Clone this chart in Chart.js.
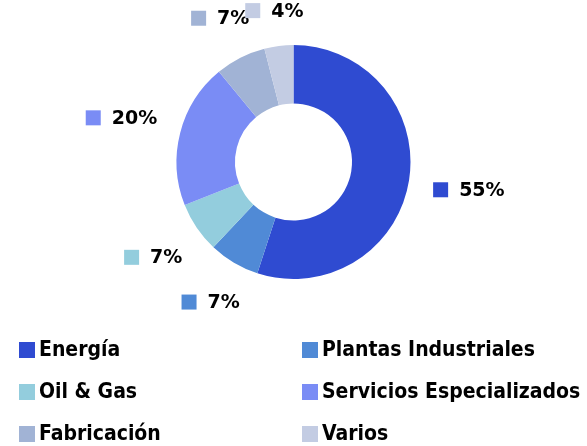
<!DOCTYPE html>
<html>
<head>
<meta charset="utf-8">
<script src="https://cdn.jsdelivr.net/npm/chart.js@4"></script>
<style>
  html, body { margin: 0; padding: 0; background: #fff; }
  #wrap { width: 587px; height: 446px; }
</style>
</head>
<body>
<div id="wrap"><canvas id="shareChart" width="587" height="446"></canvas></div>
<script>
const categories = ['Energía', 'Plantas Industriales', 'Oil & Gas', 'Servicios Especializados', 'Fabricación', 'Varios'];
const shares = [55, 7, 7, 20, 7, 4];
const colors = ['#2F4BD1', '#508AD6', '#93CDDD', '#7A8CF5', '#A1B3D5', '#C3CCE3'];

// etiquetas fuera del anillo: cuadro de color + porcentaje
const outsideLabels = {
  id: 'outsideLabels',
  afterDatasetsDraw(chart) {
    const ctx = chart.ctx;
    const meta = chart.getDatasetMeta(0);
    ctx.save();
    ctx.font = 'bold 19px "DejaVu Sans"';
    ctx.textBaseline = 'middle';
    ctx.textAlign = 'left';
    meta.data.forEach((arc, i) => {
      const mid = (arc.startAngle + arc.endAngle) / 2;
      const text = shares[i] + '%';
      const w = 15 + 11 + ctx.measureText(text).width;
      const h = 16;
      const c = Math.cos(mid), s = Math.sin(mid);
      const d = arc.outerRadius + 24 + Math.abs(c) * w / 2 + Math.abs(s) * h / 2;
      const cx = arc.x + c * d;
      const cy = arc.y + s * d;
      const left = cx - w / 2;
      ctx.fillStyle = colors[i];
      ctx.fillRect(left, cy - 7.5, 15, 15);
      ctx.fillStyle = '#000';
      ctx.fillText(text, left + 26, cy + 1);
    });
    ctx.restore();
  }
};

// leyenda en dos columnas debajo del anillo
const gridLegend = {
  id: 'gridLegend',
  afterDraw(chart) {
    const ctx = chart.ctx;
    ctx.save();
    ctx.font = 'bold 21px "DejaVu Sans Condensed"';
    ctx.textBaseline = 'middle';
    ctx.textAlign = 'left';
    categories.forEach((name, i) => {
      const x = 19 + (i % 2) * 283;
      const y = 350 + Math.floor(i / 2) * 42;
      ctx.fillStyle = colors[i];
      ctx.fillRect(x, y - 8, 16, 16);
      ctx.fillStyle = '#000';
      ctx.fillText(name, x + 20, y + 1);
    });
    ctx.restore();
  }
};

const shareChart = new Chart(document.getElementById('shareChart'), {
  type: 'doughnut',
  data: {
    labels: categories,
    datasets: [{
      data: shares,
      backgroundColor: colors,
      borderWidth: 0
    }]
  },
  options: {
    responsive: false,
    animation: false,
    cutout: '50%',
    layout: {
      padding: { top: 45, bottom: 167, left: 60, right: 60 }
    },
    plugins: {
      legend: { display: false },
      tooltip: { enabled: false }
    }
  },
  plugins: [outsideLabels, gridLegend]
});
</script>
</body>
</html>
